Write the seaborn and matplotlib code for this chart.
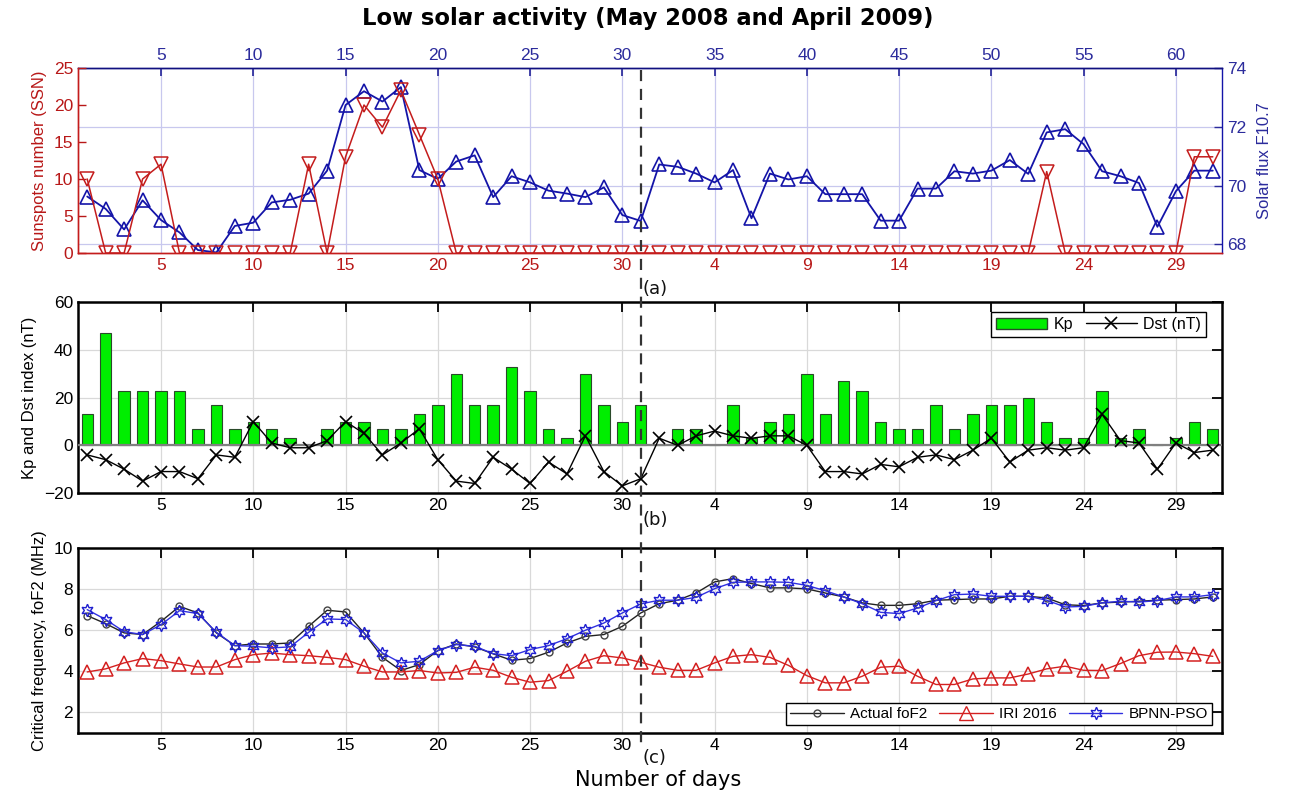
import numpy as np
import pandas as pd
import matplotlib
matplotlib.use('Agg')
import matplotlib.pyplot as plt
import matplotlib.transforms as mtransforms
from matplotlib.lines import Line2D
from matplotlib.patches import Patch
import seaborn as sns

# ---------------- data ----------------
days = list(range(1, 63))
ssn = [10, 0, 0, 10, 12, 0, 0, 0, 0, 0, 0, 0, 12, 0, 13, 20, 17, 22, 16, 10,
       0, 0, 0, 0, 0, 0, 0, 0, 0, 0, 0,
       0, 0, 0, 0, 0, 0, 0, 0, 0, 0, 0, 0, 0, 0, 0, 0, 0, 0, 0, 0, 0,
       11, 0, 0, 0, 0, 0, 0, 0, 13, 13]
f107 = [69.63, 69.21, 68.51, 69.50, 68.83, 68.41, 67.81, 67.73, 68.63, 68.74,
        69.43, 69.52, 69.73, 70.51, 72.74, 73.21, 72.86, 73.35, 70.53, 70.23,
        70.82, 71.03, 69.61, 70.32, 70.11, 69.83, 69.73, 69.61, 69.94, 69.00, 68.80,
        70.72, 70.64, 70.41, 70.11, 70.53, 68.89, 70.41, 70.21, 70.32, 69.71,
        69.71, 69.71, 68.81, 68.81, 69.90, 69.90, 70.49, 70.41, 70.51, 70.87,
        70.40, 71.81, 71.92, 71.41, 70.49, 70.32, 70.09, 68.60, 69.81, 70.51, 70.51]
kp = [13, 47, 23, 23, 23, 23, 7, 17, 7, 10, 7, 3, 0, 7, 10, 10, 7, 7, 13, 17,
      30, 17, 17, 33, 23, 7, 3, 30, 17, 10, 17,
      0, 7, 7, 0, 17, 3, 10, 13, 30, 13, 27, 23, 10, 7, 7, 17, 7, 13, 17, 17,
      20, 10, 3, 3, 23, 3, 7, 0, 3, 10, 7]
dst = [-4, -6, -10, -15, -11, -11, -14, -4, -5, 10, 1, -1, -1, 2, 10, 5, -4, 1, 7, -6,
       -15, -16, -5, -10, -16, -7, -12, 4, -11, -17, -14,
       3, 0, 4, 6, 4, 3, 4, 4, 0, -11, -11, -12, -8, -9, -5, -4, -6, -2, 3, -7,
       -2, -1, -2, -1, 13, 2, 1, -10, 1, -3, -2]
fof2_actual = [6.71, 6.32, 5.87, 5.79, 6.43, 7.16, 6.84, 5.87, 5.25, 5.33, 5.33, 5.38,
               6.19, 6.97, 6.89, 5.87, 4.68, 4.04, 4.33, 5.01, 5.33, 5.19, 4.85, 4.54,
               4.62, 4.93, 5.38, 5.70, 5.79, 6.19, 6.84,
               7.29, 7.46, 7.81, 8.35, 8.51, 8.27, 8.06, 8.06, 8.01, 7.81, 7.62, 7.33,
               7.21, 7.21, 7.29, 7.46, 7.49, 7.52, 7.52, 7.65, 7.65, 7.57, 7.24, 7.20,
               7.33, 7.37, 7.41, 7.46, 7.49, 7.52, 7.62]
fof2_iri = [3.97, 4.12, 4.41, 4.62, 4.52, 4.36, 4.21, 4.21, 4.57, 4.81, 4.89, 4.81,
            4.76, 4.68, 4.57, 4.25, 3.97, 3.97, 4.04, 3.92, 3.95, 4.20, 4.05, 3.71,
            3.47, 3.55, 4.00, 4.49, 4.76, 4.65, 4.44,
            4.20, 4.05, 4.05, 4.41, 4.73, 4.81, 4.68, 4.29, 3.79, 3.44, 3.44, 3.76,
            4.20, 4.25, 3.76, 3.36, 3.36, 3.63, 3.68, 3.68, 3.87, 4.12, 4.25, 4.05,
            4.04, 4.38, 4.76, 4.93, 4.94, 4.86, 4.73]
fof2_bpnn = [7.00, 6.52, 5.93, 5.79, 6.27, 6.95, 6.81, 5.90, 5.25, 5.22, 5.14, 5.19,
             5.90, 6.55, 6.52, 5.87, 4.89, 4.41, 4.49, 5.01, 5.30, 5.22, 4.86, 4.76,
             5.06, 5.25, 5.59, 6.00, 6.35, 6.84, 7.28,
             7.46, 7.46, 7.60, 8.02, 8.33, 8.35, 8.35, 8.33, 8.18, 7.92, 7.62, 7.29,
             6.87, 6.81, 7.08, 7.44, 7.73, 7.76, 7.65, 7.65, 7.65, 7.46, 7.13, 7.16,
             7.33, 7.41, 7.37, 7.44, 7.62, 7.62, 7.73]

xtick_pos = [5, 10, 15, 20, 25, 30, 35, 40, 45, 50, 55, 60]
bottom_labels = ['5', '10', '15', '20', '25', '30', '4', '9', '14', '19', '24', '29']
top_labels = ['5', '10', '15', '20', '25', '30', '35', '40', '45', '50', '55', '60']
split_day = 31

title = 'Low solar activity (May 2008 and April 2009)'

# ---------------- style ----------------
sns.set_theme(style='white')
plt.rcParams['font.family'] = ['Liberation Sans', 'DejaVu Sans']
plt.rcParams['axes.linewidth'] = 1.0
plt.rcParams['text.color'] = 'black'
plt.rcParams['axes.labelcolor'] = 'black'
plt.rcParams['xtick.color'] = 'black'
plt.rcParams['ytick.color'] = 'black'

RED = '#c41c1c'
RED_TXT = '#b81818'
BLUE = '#1414a8'
BLUE_TXT = '#2b2b9c'
GRID_BLUE = '#c8c8ee'
GRID_GRAY = '#d9d9d9'
TICK_FS = 12.5
LAB_FS = 12

df = pd.DataFrame({'day': days, 'ssn': ssn, 'f107': f107, 'kp': kp, 'dst': dst,
                   'actual': fof2_actual, 'iri': fof2_iri, 'bpnn': fof2_bpnn})

fig = plt.figure(figsize=(12.93, 7.91), dpi=100)
L, W = 78 / 1293, (1222 - 78) / 1293
ax_a = fig.add_axes([L, 1 - 253 / 791, W, 185 / 791])
ax_b = fig.add_axes([L, 1 - 493 / 791, W, 190.5 / 791])
ax_c = fig.add_axes([L, 1 - 733 / 791, W, 185 / 791])
XLIM = (0.5, 62.5)

# ---------------- panel (a) ----------------
ax_f = ax_a.twinx()
ax_a.set_zorder(2)
ax_f.set_zorder(1)
ax_a.patch.set_visible(False)
ax_f.patch.set_visible(True)
ax_f.patch.set_facecolor('white')

sns.lineplot(data=df, x='day', y='ssn', ax=ax_a, color=RED, lw=1.1,
             marker='v', markersize=9.5, markerfacecolor='none',
             markeredgecolor=RED, markeredgewidth=1.1)
sns.lineplot(data=df, x='day', y='f107', ax=ax_f, color=BLUE, lw=1.3,
             marker='^', markersize=10, markerfacecolor='none',
             markeredgecolor=BLUE, markeredgewidth=1.2)

ax_a.set_xlim(XLIM)
ax_a.set_ylim(0, 25)
ax_f.set_ylim(67.71, 74)
ax_a.set_yticks([0, 5, 10, 15, 20, 25])
ax_f.set_yticks([68, 70, 72, 74])
ax_a.set_xticks(xtick_pos)
ax_a.set_xticklabels(bottom_labels)
ax_a.set_xlabel('')
ax_f.set_xlabel('')
ax_a.set_ylabel('Sunspots number (SSN)', color=RED_TXT, fontsize=LAB_FS, labelpad=5)
ax_f.set_ylabel('Solar flux F10.7', color=BLUE_TXT, fontsize=LAB_FS, labelpad=8)
ax_a.tick_params(axis='both', colors=RED_TXT, labelsize=TICK_FS, direction='in',
                 length=6, width=1.0)
ax_f.tick_params(axis='y', colors=BLUE_TXT, labelsize=TICK_FS, direction='in',
                 length=6, width=1.0)
ax_f.grid(axis='y', color=GRID_BLUE, lw=0.9)
ax_f.grid(axis='x', visible=False)
for xv in xtick_pos:
    ax_f.axvline(xv, color=GRID_BLUE, lw=0.9, zorder=0)

sec = ax_a.secondary_xaxis('top')
sec.set_xticks(xtick_pos)
sec.set_xticklabels(top_labels)
sec.tick_params(colors=BLUE_TXT, labelsize=TICK_FS, direction='in', length=6)
sec.spines['top'].set_color('#101080')

ax_a.spines['left'].set_color(RED)
ax_a.spines['bottom'].set_color(RED)
ax_a.spines['right'].set_visible(False)
ax_a.spines['top'].set_visible(False)
ax_f.spines['right'].set_color(BLUE)
ax_f.spines['top'].set_color('#101080')
ax_f.spines['left'].set_color(RED)
ax_f.spines['bottom'].set_color(RED)
for s in ax_a.spines.values():
    s.set_linewidth(1.0)
for s in ax_f.spines.values():
    s.set_linewidth(1.0)

# ---------------- panel (b) ----------------
sns.barplot(data=df, x='day', y='kp', ax=ax_b, native_scale=True, width=0.62,
            color='#00ee00', saturation=1, edgecolor='#2a4a2a', linewidth=0.8,
            zorder=2)
ax_b.axhline(0, color='#808080', lw=1.6, zorder=3)
sns.lineplot(data=df, x='day', y='dst', ax=ax_b, color='black', lw=1.0,
             marker='x', markersize=8, markeredgecolor='black',
             markeredgewidth=1.2, zorder=4)
ax_b.set_xlim(XLIM)
ax_b.set_ylim(-20, 60)
ax_b.set_yticks([-20, 0, 20, 40, 60])
ax_b.set_xticks(xtick_pos)
ax_b.set_xticklabels(bottom_labels)
ax_b.set_xlabel('')
ax_b.set_ylabel('Kp and Dst index (nT)', fontsize=LAB_FS, labelpad=5)
ax_b.grid(True, color=GRID_GRAY, lw=0.9)
ax_b.set_axisbelow(True)
ax_b.tick_params(axis='both', labelsize=TICK_FS, direction='in', length=7,
                 width=1.3, top=True, right=True, colors='black')
for s in ax_b.spines.values():
    s.set_color('black')
    s.set_linewidth(1.8)
leg_b = ax_b.legend(handles=[Patch(facecolor='#00ee00', edgecolor='#2a4a2a', label='Kp'),
                             Line2D([], [], color='black', marker='x', lw=1.0,
                                    markersize=8, markeredgewidth=1.2, label='Dst (nT)')],
                    loc='upper right', ncol=2, fontsize=11.5, frameon=True,
                    fancybox=False, edgecolor='black', framealpha=1,
                    handlelength=3.2, columnspacing=0.8, handletextpad=0.4,
                    borderpad=0.3, borderaxespad=0.3, bbox_to_anchor=(0.99, 0.975))
leg_b.get_frame().set_linewidth(1.0)

# ---------------- panel (c) ----------------
sns.lineplot(data=df, x='day', y='actual', ax=ax_c, color='#222222', lw=1.0,
             marker='o', markersize=5, markerfacecolor='none',
             markeredgecolor='#444444', markeredgewidth=1.0, zorder=3)
sns.lineplot(data=df, x='day', y='iri', ax=ax_c, color='#d42020', lw=1.0,
             marker='^', markersize=10, markerfacecolor='none',
             markeredgecolor='#d42020', markeredgewidth=1.1, zorder=4)
sns.lineplot(data=df, x='day', y='bpnn', ax=ax_c, color='#3030e0', lw=1.0,
             marker=(6, 1, 0), markersize=9, markerfacecolor='none',
             markeredgecolor='#2020d0', markeredgewidth=1.0, zorder=5)
ax_c.set_xlim(XLIM)
ax_c.set_ylim(1, 10)
ax_c.set_yticks([2, 4, 6, 8, 10])
ax_c.set_xticks(xtick_pos)
ax_c.set_xticklabels(bottom_labels)
ax_c.set_xlabel('')
ax_c.set_ylabel('Critical frequency, foF2 (MHz)', fontsize=LAB_FS, labelpad=5)
ax_c.grid(True, color=GRID_GRAY, lw=0.9)
ax_c.set_axisbelow(True)
ax_c.tick_params(axis='both', labelsize=TICK_FS, direction='in', length=7,
                 width=1.3, top=True, right=True, colors='black')
for s in ax_c.spines.values():
    s.set_color('black')
    s.set_linewidth(1.8)
leg_c = ax_c.legend(handles=[
    Line2D([], [], color='#222222', marker='o', markersize=5, markerfacecolor='none',
           markeredgecolor='#444444', lw=1.0, label='Actual foF2'),
    Line2D([], [], color='#d42020', marker='^', markersize=10, markerfacecolor='none',
           lw=1.0, label='IRI 2016'),
    Line2D([], [], color='#3030e0', marker=(6, 1, 0), markersize=9, markerfacecolor='none',
           markeredgecolor='#2020d0', lw=1.0, label='BPNN-PSO')],
    loc='lower right', ncol=3, fontsize=11, frameon=True, fancybox=False,
    edgecolor='black', framealpha=1, handlelength=3.5, columnspacing=0.8,
    handletextpad=0.4, borderpad=0.25, borderaxespad=0.3,
    bbox_to_anchor=(0.995, 0.02))
leg_c.get_frame().set_linewidth(1.0)

# ---------------- dashed separator and labels ----------------
trans = mtransforms.blended_transform_factory(ax_a.transData, fig.transFigure)
fig.add_artist(Line2D([split_day, split_day], [1 - 70 / 791, 1 - 746 / 791],
                      transform=trans, color='#333333', lw=1.6,
                      linestyle=(0, (5, 3.5)), zorder=10))
for lab, ypix in [('(a)', 289), ('(b)', 520), ('(c)', 758)]:
    fig.text(split_day + 0.1, 1 - ypix / 791, lab, transform=trans,
             ha='left', va='center', fontsize=13, color='#111111',
             family=['DejaVu Sans'])

fig.text(648 / 1293, 1 - 19 / 791, title, ha='center', va='center', fontsize=16.3,
         fontweight='bold', family=['DejaVu Sans'], color='black')
fig.text(658 / 1293, 1 - 780 / 791, 'Number of days', ha='center', va='center',
         fontsize=15, family=['DejaVu Sans'], color='black')

fig.savefig('out.png', dpi=100)
